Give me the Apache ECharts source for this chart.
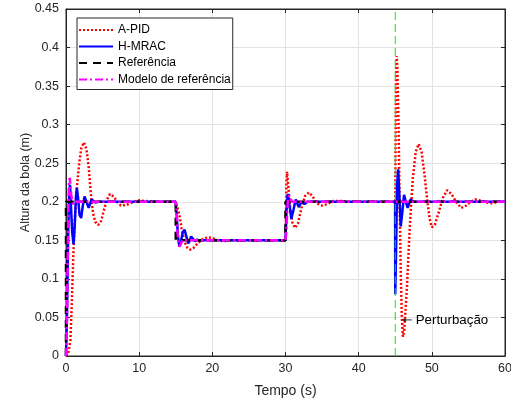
<!DOCTYPE html>
<html><head><meta charset="utf-8">
<script src="https://cdn.jsdelivr.net/npm/echarts@6/dist/echarts.min.js"></script>
<style>html,body{margin:0;padding:0;background:#fff}#c{width:511px;height:402px}</style>
</head><body><div id="c"></div>
<script>
// ---- data (time in s, height in m) ----
var apidT = [0,0.3,0.6,0.8,1.0,1.2,1.5,1.8,2.1,2.45,2.8,3.1,3.4,3.7,4.0,4.4,4.8,5.2,5.6,6.0,6.5,7.0,7.5,8.3,9.0,9.8,10.8,12,15,
  15.2,15.5,15.8,16.2,16.6,17.0,17.4,18.0,18.6,19.3,20.0,20.7,21.5,22.5,30,
  30.05,30.12,30.2,30.35,30.6,30.9,31.3,31.7,32.2,32.7,33.2,33.7,34.3,35.0,35.7,36.5,37.5,39,45,
  45.05,45.12,45.2,45.3,45.45,45.6,45.75,45.9,46.05,46.25,46.6,47.0,47.4,47.8,48.2,48.6,49.0,49.4,49.7,50.0,50.4,50.9,51.5,52.1,52.7,53.3,54.0,54.7,55.3,56.0,56.8,57.5,58.2,59,60];
var apidV = [0,0.003,0.02,0.07,0.13,0.175,0.22,0.25,0.27,0.277,0.268,0.245,0.21,0.185,0.174,0.17,0.175,0.19,0.203,0.21,0.207,0.2,0.195,0.196,0.199,0.202,0.201,0.2,0.2,
  0.198,0.183,0.165,0.148,0.14,0.138,0.14,0.146,0.151,0.154,0.153,0.15,0.149,0.15,0.15,
  0.17,0.22,0.239,0.225,0.195,0.174,0.166,0.172,0.193,0.208,0.212,0.207,0.198,0.195,0.197,0.201,0.201,0.2,0.2,
  0.28,0.37,0.389,0.37,0.3,0.2,0.11,0.05,0.025,0.035,0.09,0.17,0.23,0.265,0.275,0.265,0.235,0.2,0.178,0.167,0.17,0.185,0.205,0.215,0.21,0.2,0.192,0.195,0.2,0.203,0.201,0.199,0.198,0.2,0.2];

var hmracT = [0,0.15,0.3,0.45,0.55,0.7,0.85,1.03,1.2,1.35,1.48,1.65,1.85,2.07,2.3,2.53,2.8,3.1,3.5,4.0,4.5,15,
  15.15,15.3,15.5,15.7,15.95,16.2,16.45,16.7,16.9,17.1,17.35,17.6,17.9,18.2,30,
  30.15,30.3,30.55,30.8,31.1,31.4,31.8,32.2,32.6,33,44.98,
  45.0,45.1,45.25,45.4,45.55,45.75,45.95,46.2,46.45,46.7,47.1,47.5,60];
var hmracV = [0,0.06,0.16,0.215,0.222,0.19,0.16,0.145,0.17,0.205,0.218,0.205,0.183,0.179,0.195,0.207,0.2,0.192,0.203,0.199,0.2,0.2,
  0.18,0.155,0.142,0.148,0.16,0.164,0.155,0.146,0.149,0.155,0.152,0.149,0.151,0.15,0.15,
  0.19,0.21,0.195,0.178,0.19,0.203,0.193,0.2,0.197,0.2,0.2,
  0.08,0.13,0.22,0.242,0.21,0.168,0.185,0.209,0.2,0.192,0.203,0.2,0.2];

var refT = [0,0,15,15,30,30,60];
var refV = [0,0.2,0.2,0.15,0.15,0.2,0.2];

var modelT = [0,0.1,0.2,0.3,0.4,0.5,0.6,0.7,0.85,1.0,1.3,15,
  15.1,15.25,15.4,15.5,15.7,15.9,16.2,16.5,30,
  30.1,30.25,30.35,30.5,30.7,30.9,60];
var modelV = [0,0.03,0.1,0.18,0.225,0.231,0.222,0.21,0.2,0.197,0.2,0.2,
  0.19,0.16,0.145,0.142,0.145,0.15,0.151,0.15,0.15,
  0.16,0.19,0.205,0.208,0.204,0.2,0.2];

var disturbT = [45,45];
var disturbV = [0,0.45];

var legendNames = ['A-PID','H-MRAC','Referência','Modelo de referência'];

function pairs(t, v){ return t.map(function(x,i){ return [x, v[i]]; }); }

var chart = echarts.init(document.getElementById('c'));
var font = 'Liberation Sans, Arial, Helvetica, sans-serif';
var axisCol = '#262626';
var baseAxis = {
  axisLine:{show:true,onZero:false,lineStyle:{color:axisCol,width:1}},
  axisTick:{show:true,inside:true,length:4,lineStyle:{color:axisCol}},
  axisLabel:{color:axisCol,fontSize:12.5,fontFamily:font},
  splitLine:{show:true,lineStyle:{color:'#e3e3e3',width:1}}
};
var option = {
  animation:false,
  backgroundColor:'#fff',
  grid:{left:66,right:6,top:9,bottom:46,show:true,borderColor:axisCol,borderWidth:1,backgroundColor:'transparent',
    containLabel:false, outerBoundsMode:'none'},
  legend:{
    data:legendNames, orient:'vertical', left:77, top:18,
    itemWidth:34, itemHeight:14, itemGap:4.5,
    padding:[6,2,4,1],
    backgroundColor:'#fff', borderColor:axisCol, borderWidth:1,
    itemStyle:{opacity:0},
    textStyle:{color:'#000',fontSize:12,fontFamily:font}
  },
  xAxis:[
    Object.assign({}, baseAxis, {type:'value',min:0,max:60,interval:10,name:'Tempo (s)',nameLocation:'middle',nameGap:28,
      nameMoveOverlap:false,
      nameTextStyle:{color:axisCol,fontSize:14,fontFamily:font},
      axisLabel:Object.assign({}, baseAxis.axisLabel,{margin:6})}),
    Object.assign({}, baseAxis, {type:'value',min:0,max:60,interval:10,position:'top',axisLabel:{show:false},splitLine:{show:false}})
  ],
  yAxis:[
    Object.assign({}, baseAxis, {type:'value',min:0,max:0.45,interval:0.05,name:'Altura da bola (m)',nameLocation:'middle',nameGap:34,
      nameMoveOverlap:false,
      nameTextStyle:{color:axisCol,fontSize:12.5,fontFamily:font},
      axisLabel:Object.assign({}, baseAxis.axisLabel,{margin:7})}),
    Object.assign({}, baseAxis, {type:'value',min:0,max:0.45,interval:0.05,position:'right',axisLabel:{show:false},splitLine:{show:false}})
  ],
  series:[
    {name:'A-PID',type:'line',data:pairs(apidT,apidV),symbol:'none',z:2,
      itemStyle:{color:'#ff0000'},lineStyle:{color:'#ff0000',width:2.5,type:[2,2]}},
    {name:'H-MRAC',type:'line',data:pairs(hmracT,hmracV),symbol:'none',z:3,
      itemStyle:{color:'#0000ff'},lineStyle:{color:'#0000ff',width:2.5,type:'solid'}},
    {name:'Referência',type:'line',data:pairs(refT,refV),symbol:'none',z:4,
      itemStyle:{color:'#000000'},lineStyle:{color:'#000000',width:2.5,type:[8,6]}},
    {name:'Modelo de referência',type:'line',data:pairs(modelT,modelV),symbol:'none',z:5,
      itemStyle:{color:'#ff00ff'},lineStyle:{color:'#ff00ff',width:2.5,type:[8,3,2,3]}},
    {name:'Perturbação',type:'line',data:pairs(disturbT,disturbV),symbol:'none',z:6,silent:true,
      itemStyle:{color:'#00ee00'},lineStyle:{color:'#00ee00',width:1,type:[8,4]}}
  ]
};
chart.setOption(option);

// annotation "Perturbação" with arrow pointing at the disturbance
var pA = chart.convertToPixel({gridIndex:0},[45.9,0.0468]);
var pT = chart.convertToPixel({gridIndex:0},[47.8,0.0468]);
chart.setOption({graphic:[
  {type:'line',shape:{x1:pT[0]-4,y1:pT[1],x2:pA[0]+2,y2:pA[1]},style:{stroke:'#262626',lineWidth:1},z:10},
  {type:'polygon',shape:{points:[[pA[0],pA[1]],[pA[0]+4,pA[1]-2],[pA[0]+4,pA[1]+2]]},style:{fill:'#262626'},z:10},
  {type:'text',x:pT[0],y:pT[1],style:{text:'Perturbação',fill:'#000',font:'13.3px '+font,verticalAlign:'middle',align:'left'},z:10}
]});
</script></body></html>
